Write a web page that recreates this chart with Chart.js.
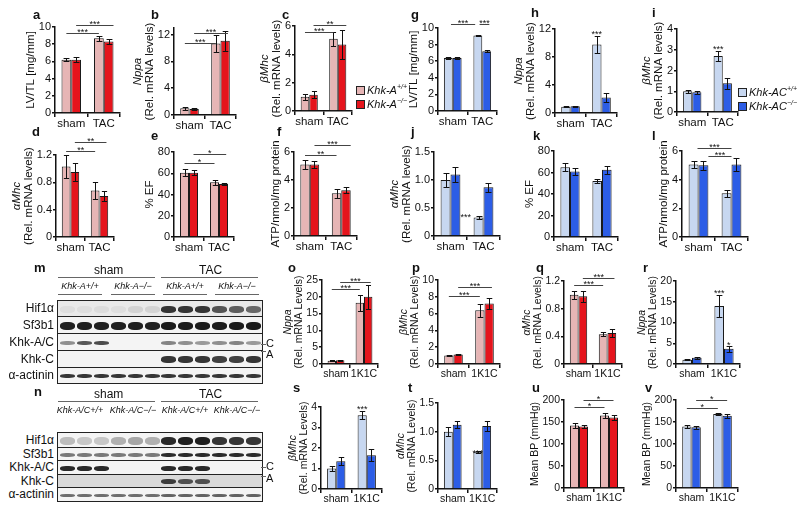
<!DOCTYPE html>
<html>
<head>
<meta charset="utf-8">
<script src="https://cdn.jsdelivr.net/npm/chart.js@4.4.0/dist/chart.umd.min.js"></script>
<style>
    body { margin: 0; width: 800px; height: 515px; overflow: hidden; position: relative; background: #fff;
           font-family: "Liberation Sans", Arial, sans-serif; color: #111; }
    canvas { position: absolute; }
    .lt { position: absolute; font-weight: bold; font-size: 13px; line-height: 16px; }
    .leg { position: absolute; font-size: 11px; line-height: 13px; white-space: nowrap; }
    .leg .sw { display: inline-block; width: 7px; height: 7px; border: 1px solid #222; margin-right: 2px; vertical-align: -1px; }
    .leg sup { font-size: 7px; font-style: italic; }
    .txt { position: absolute; white-space: nowrap; }
    .hline { position: absolute; height: 0; border-top: 1px solid #666; }
    .row { position: absolute; border: 1px solid #222; box-sizing: border-box; overflow: hidden; }
    .band { position: absolute; border-radius: 40%; filter: blur(0.7px); }
    .rl { position: absolute; left: 0; width: 54px; text-align: right; font-size: 12px; line-height: 14px; }
</style>
</head>
<body>
<script>
// categories
const tacGroups = ['sham', 'TAC'];
const bpGroups = ['sham', '1K1C'];

// values: [sham, TAC/1K1C] for wild type and knockout, error bars as [wt, ko]
const a_wt = [6.2, 8.7],   a_ko = [6.2, 8.3],   a_sd = [[0.2, 0.3], [0.3, 0.3]];
const b_wt = [1.0, 10.7],  b_ko = [0.9, 11.1],  b_sd = [[0.25, 1.3], [0.2, 1.5]];
const c_wt = [1.0, 5.1],   c_ko = [1.15, 4.7],  c_sd = [[0.2, 0.5], [0.25, 1.0]];
const g_wt = [6.4, 9.1],   g_ko = [6.4, 7.2],   g_sd = [[0.15, 0.1], [0.15, 0.15]];
const h_wt = [0.9, 9.8],   h_ko = [0.95, 2.2],  h_sd = [[0.1, 1.2], [0.1, 0.6]];
const i_wt = [1.0, 2.7],   i_ko = [0.95, 1.38], i_sd = [[0.08, 0.25], [0.06, 0.25]];
const d_wt = [1.03, 0.68], d_ko = [0.95, 0.6],  d_sd = [[0.17, 0.12], [0.13, 0.07]];
const e_wt = [60.5, 51.5], e_ko = [60.5, 50],   e_sd = [[3.2, 2.5], [2.5, 1.2]];
const f_wt = [5.1, 3.05],  f_ko = [5.1, 3.27],  f_sd = [[0.3, 0.3], [0.25, 0.2]];
const j_wt = [1.0, 0.33],  j_ko = [1.1, 0.87],  j_sd = [[0.12, 0.03], [0.13, 0.08]];
const k_wt = [65, 52],     k_ko = [61, 62.5],   k_sd = [[4, 2], [3.5, 3.5]];
const l_wt = [5.05, 3.05], l_ko = [5.0, 5.05],  l_sd = [[0.25, 0.25], [0.3, 0.45]];
const o_wt = [1.0, 18.2],  o_ko = [1.1, 20.0],  o_sd = [[0.1, 2.3], [0.1, 3.5]];
const p_wt = [1.0, 6.4],   p_ko = [1.12, 7.2],  p_sd = [[0.05, 0.8], [0.08, 0.6]];
const q_wt = [1.0, 0.43],  q_ko = [0.98, 0.45], q_sd = [[0.06, 0.03], [0.08, 0.06]];
const r_wt = [1.0, 14.0],  r_ko = [1.5, 3.7],   r_sd = [[0.15, 2.6], [0.2, 0.7]];
const s_wt = [1.0, 3.6],   s_ko = [1.35, 1.65], s_sd = [[0.1, 0.2], [0.2, 0.3]];
const t_wt = [1.0, 0.65],  t_ko = [1.12, 1.1],  t_sd = [[0.08, 0.02], [0.06, 0.08]];
const u_wt = [142, 165],   u_ko = [140, 160],   u_sd = [[5, 6], [3, 5]];
const v_wt = [140, 168],   v_ko = [138, 164],   v_sd = [[4, 3], [4, 4]];

// y tick labels (axis max is the last tick unless given)
const lvtlTicks = [0, 2, 4, 6, 8, 10];
const nppaTicks = [0, 2, 4, 6, 8, 10, 12];
const b_max = 13;
const bmhcTicks = [0, 1, 2, 3, 4, 5, 6];
const i_ticks = [0, 1, 2, 3, 4];
const amhcTicks = [0, 0.4, 0.8, 1.2];
const efTicks = [0, 20, 40, 60, 80];
const atpTicks = [0, 1, 2, 3, 4, 5, 6];
const j_ticks = [0, 0.5, 1, 1.5];
const o_ticks = [0, 5, 10, 15, 20, 25];
const p_ticks = [0, 2, 4, 6, 8, 10];
const r_ticks = [0, 5, 10, 15, 20];
const s_ticks = [0, 1, 2, 3, 4];
const bpTicks = [0, 50, 100, 150, 200];

const redPair = ['#e6b5b5', '#e5141c'];
const bluePair = ['#c7d7f0', '#2c5de6'];

const YW = 52, PADT = 24, PADR = 6, XH = 18;

const T = (...lines) => lines.map(l => typeof l === 'string' ? { t: l } : l);
const gene = t => ({ t: t, it: true });

// Error bars, significance lines, stars and the y title
const extras = {
    id: 'extras',
    afterDatasetsDraw(chart, args, o) {
        const ctx = chart.ctx, ys = chart.scales.y;
        const bx = (ref) => {
            const bar = chart.getDatasetMeta(ref[0]).data[ref[1]];
            return bar.x + ref[2] * bar.width;
        };
        ctx.save();
        ctx.strokeStyle = '#111';
        ctx.fillStyle = '#111';
        ctx.lineWidth = 1;
        chart.data.datasets.forEach((ds, di) => {
            chart.getDatasetMeta(di).data.forEach((bar, i) => {
                const v = ds.data[i], e = ds.err[i];
                const x = Math.round(bar.x) + 0.5;
                const yt = Math.round(ys.getPixelForValue(v + e)) + 0.5;
                const yb = Math.round(ys.getPixelForValue(v - e)) + 0.5;
                const cw = Math.max(4, bar.width * 0.6);
                ctx.beginPath();
                ctx.moveTo(x, yt); ctx.lineTo(x, yb);
                ctx.moveTo(x - cw / 2, yt); ctx.lineTo(x + cw / 2, yt);
                ctx.moveTo(x - cw / 2, yb); ctx.lineTo(x + cw / 2, yb);
                ctx.stroke();
            });
        });
        ctx.font = '9px "Liberation Sans"';
        ctx.textAlign = 'center';
        ctx.textBaseline = 'alphabetic';
        (o.br || []).forEach(b => {
            const x1 = bx(b.from), x2 = bx(b.to);
            const yy = Math.round(ys.getPixelForValue(b.y)) + 0.5;
            ctx.strokeStyle = '#444';
            ctx.beginPath();
            ctx.moveTo(x1, yy); ctx.lineTo(x2, yy);
            ctx.stroke();
            ctx.fillText(b.text, (x1 + x2) / 2, yy + 1);
        });
        (o.mk || []).forEach(m => {
            const bar = chart.getDatasetMeta(m.ds).data[m.cat];
            ctx.fillText(m.text, bar.x + (m.dx || 0) * bar.width, ys.getPixelForValue(m.y) + 3);
        });
        ctx.restore();
    },
    afterDraw(chart, args, o) {
        const ctx = chart.ctx, area = chart.chartArea, ys = chart.scales.y;
        ctx.save();
        ctx.font = o.tickSize + 'px "Liberation Sans"';
        const widest = Math.max(...ys.ticks.map(t => ctx.measureText(String(t.label)).width));
        const yc = (area.top + area.bottom) / 2;
        const x0 = area.left - 4 - widest - 2 - o.titleSize * 0.5;
        const n = o.title.length;
        o.title.forEach((line, i) => {
            ctx.save();
            ctx.translate(x0 - (n - 1 - i) * (o.titleSize + 0.5), yc);
            ctx.rotate(-Math.PI / 2);
            ctx.font = (line.it ? 'italic ' : '') + o.titleSize + 'px "Liberation Sans"';
            ctx.fillStyle = '#111';
            ctx.textAlign = 'center';
            ctx.textBaseline = 'middle';
            ctx.fillText(line.t, 0, 0);
            ctx.restore();
        });
        ctx.restore();
    }
};

const panels = [
    { id: 'a', at: [33, 15], axis: 55, right: 120, top: 27, zero: 113, ticks: lvtlTicks, labels: tacGroups, wt: a_wt, ko: a_ko, sd: a_sd, col: redPair,
      title: T('LV/TL [mg/mm]'),
      br: [{ from: [0, 0, 0], to: [0, 1, 0], y: 9.3, text: '***' }, { from: [1, 0, 0], to: [1, 1, 0.5], y: 10.2, text: '***' }] },
    { id: 'b', at: [151, 15], axis: 174, right: 236, top: 28, zero: 115, ticks: nppaTicks, max: b_max, labels: tacGroups, wt: b_wt, ko: b_ko, sd: b_sd, col: redPair,
      title: T(gene('Nppa'), '(Rel. mRNA levels)'),
      br: [{ from: [0, 0, 0], to: [0, 1, 0], y: 10.8, text: '***' }, { from: [1, 0, 0], to: [1, 1, 0.3], y: 12.3, text: '***' }] },
    { id: 'c', at: [282, 15], axis: 295, right: 352, top: 26, zero: 111, ticks: bmhcTicks, labels: tacGroups, wt: c_wt, ko: c_ko, sd: c_sd, col: redPair,
      title: T(gene('βMhc'), '(Rel. mRNA levels)'),
      br: [{ from: [0, 0, 0], to: [0, 1, 0], y: 5.6, text: '***' }, { from: [1, 0, 0], to: [1, 1, 0.5], y: 6.1, text: '**' }] },
    { id: 'g', at: [411, 15], axis: 438, right: 497, top: 28, zero: 111, ticks: lvtlTicks, labels: tacGroups, wt: g_wt, ko: g_ko, sd: g_sd, col: bluePair,
      title: T('LV/TL [mg/mm]'),
      br: [{ from: [0, 0, 0.3], to: [0, 1, -0.3], y: 10.5, text: '***' }, { from: [0, 1, 0.2], to: [1, 1, 0.3], y: 10.5, text: '***' }] },
    { id: 'h', at: [531, 13], axis: 555, right: 617, top: 29, zero: 113, ticks: nppaTicks, labels: tacGroups, wt: h_wt, ko: h_ko, sd: h_sd, col: bluePair,
      title: T(gene('Nppa'), '(Rel. mRNA levels)'),
      mk: [{ ds: 0, cat: 1, y: 11.3, text: '***' }] },
    { id: 'i', at: [652, 13], axis: 677, right: 738, top: 29, zero: 112, ticks: i_ticks, labels: tacGroups, wt: i_wt, ko: i_ko, sd: i_sd, col: bluePair,
      title: T(gene('βMhc'), '(Rel. mRNA levels)'),
      mk: [{ ds: 0, cat: 1, y: 3.05, text: '***' }] },

    { id: 'd', at: [32, 132], axis: 56, right: 114, top: 155, zero: 237, ticks: amhcTicks, labels: tacGroups, wt: d_wt, ko: d_ko, sd: d_sd, col: redPair,
      title: T(gene('αMhc'), '(Rel. mRNA levels)'),
      br: [{ from: [0, 0, 0], to: [0, 1, 0], y: 1.26, text: '**' }, { from: [1, 0, 0], to: [1, 1, 0.3], y: 1.39, text: '**' }] },
    { id: 'e', at: [151, 136], axis: 174, right: 234, top: 152, zero: 237, ticks: efTicks, labels: tacGroups, wt: e_wt, ko: e_ko, sd: e_sd, col: redPair,
      title: T('% EF'),
      br: [{ from: [0, 0, 0], to: [0, 1, 0], y: 69.5, text: '*' }, { from: [1, 0, 0], to: [1, 1, 0.3], y: 78, text: '*' }] },
    { id: 'f', at: [277, 132], axis: 294, right: 357, top: 152, zero: 236, ticks: atpTicks, labels: tacGroups, wt: f_wt, ko: f_ko, sd: f_sd, col: redPair,
      title: T('ATP/nmol/mg protein'),
      br: [{ from: [0, 0, 0], to: [0, 1, 0], y: 5.8, text: '**' }, { from: [1, 0, 0], to: [1, 1, 0.5], y: 6.5, text: '***' }] },
    { id: 'j', at: [411, 132], axis: 434, right: 500, top: 152, zero: 236, ticks: j_ticks, labels: tacGroups, wt: j_wt, ko: j_ko, sd: j_sd, col: bluePair,
      title: T(gene('αMhc'), '(Rel. mRNA levels)'),
      mk: [{ ds: 0, cat: 1, dx: -1.3, y: 0.34, text: '***' }] },
    { id: 'k', at: [533, 136], axis: 554, right: 618, top: 151, zero: 237, ticks: efTicks, labels: tacGroups, wt: k_wt, ko: k_ko, sd: k_sd, col: bluePair,
      title: T('% EF') },
    { id: 'l', at: [652, 136], axis: 682, right: 748, top: 151, zero: 237, ticks: atpTicks, labels: tacGroups, wt: l_wt, ko: l_ko, sd: l_sd, col: bluePair,
      title: T('ATP/nmol/mg protein'),
      br: [{ from: [0, 0, 0.4], to: [0, 1, 0.5], y: 6.2, text: '***' }, { from: [1, 0, 0.5], to: [0, 1, 0.5], y: 5.65, text: '***' }] },

    { id: 'o', at: [288, 268], axis: 322, right: 378, top: 280, zero: 364, ticks: o_ticks, small: true, labels: bpGroups, wt: o_wt, ko: o_ko, sd: o_sd, col: redPair,
      title: T(gene('Nppa'), '(Rel. mRNA Levels)'),
      br: [{ from: [0, 0, 0], to: [0, 1, 0], y: 22.3, text: '***' }, { from: [1, 0, 0], to: [1, 1, 0.3], y: 24.4, text: '***' }] },
    { id: 'p', at: [412, 268], axis: 438, right: 500, top: 280, zero: 364, ticks: p_ticks, small: true, labels: bpGroups, wt: p_wt, ko: p_ko, sd: p_sd, col: redPair,
      title: T(gene('βMhc'), '(Rel. mRNA Levels)'),
      br: [{ from: [0, 0, 0], to: [0, 1, 0], y: 8.1, text: '***' }, { from: [1, 0, 0], to: [1, 1, 0.3], y: 9.2, text: '***' }] },
    { id: 'q', at: [536, 268], axis: 564, right: 622, top: 281, zero: 364, ticks: amhcTicks, small: true, labels: bpGroups, wt: q_wt, ko: q_ko, sd: q_sd, col: redPair,
      title: T(gene('αMhc'), '(Rel. mRNA Levels)'),
      br: [{ from: [0, 0, 0], to: [0, 1, 0], y: 1.14, text: '***' }, { from: [1, 0, 0], to: [1, 1, 0.3], y: 1.25, text: '***' }] },
    { id: 'r', at: [643, 268], axis: 676, right: 740, top: 281, zero: 364, ticks: r_ticks, small: true, labels: bpGroups, wt: r_wt, ko: r_ko, sd: r_sd, col: bluePair,
      title: T(gene('Nppa'), '(Rel. mRNA Levels)'),
      mk: [{ ds: 0, cat: 1, y: 17.2, text: '***' }, { ds: 1, cat: 1, y: 4.6, text: '*' }] },

    { id: 's', at: [293, 388], axis: 321, right: 382, top: 407, zero: 489, ticks: s_ticks, small: true, labels: bpGroups, wt: s_wt, ko: s_ko, sd: s_sd, col: bluePair,
      title: T(gene('βMhc'), '(Rel. mRNA Levels)'),
      mk: [{ ds: 0, cat: 1, y: 3.9, text: '***' }] },
    { id: 't', at: [408, 388], axis: 438, right: 497, top: 403, zero: 489, ticks: j_ticks, small: true, labels: bpGroups, wt: t_wt, ko: t_ko, sd: t_sd, col: bluePair,
      title: T(gene('αMhc'), '(Rel. mRNA Levels)'),
      mk: [{ ds: 0, cat: 1, y: 0.63, text: '***' }] },
    { id: 'u', at: [532, 388], axis: 564, right: 624, top: 400, zero: 488, ticks: bpTicks, small: true, labels: bpGroups, wt: u_wt, ko: u_ko, sd: u_sd, col: redPair,
      title: T('Mean BP (mmHg)'),
      br: [{ from: [0, 0, 0], to: [0, 1, 0], y: 183, text: '*' }, { from: [1, 0, 0], to: [1, 1, 0], y: 200, text: '*' }] },
    { id: 'v', at: [645, 388], axis: 676, right: 738, top: 400, zero: 488, ticks: bpTicks, small: true, labels: bpGroups, wt: v_wt, ko: v_ko, sd: v_sd, col: bluePair,
      title: T('Mean BP (mmHg)'),
      br: [{ from: [0, 0, 0], to: [0, 1, 0], y: 182, text: '*' }, { from: [1, 0, 0], to: [1, 1, 0], y: 200, text: '*' }] }
];

function addText(html, left, top, css) {
    const el = document.createElement('div');
    el.className = 'txt';
    el.innerHTML = html;
    el.style.left = left + 'px';
    el.style.top = top + 'px';
    if (css) el.style.cssText += css;
    document.body.appendChild(el);
    return el;
}

function addLine(left, top, width) {
    const el = addText('', left, top);
    el.className = 'hline';
    el.style.width = width + 'px';
    return el;
}

function makePanel(p) {
    const left = p.axis - YW, top = p.top - PADT;
    const cv = document.createElement('canvas');
    cv.width = p.right - left + PADR;
    cv.height = p.zero + XH - top;
    cv.style.left = left + 'px';
    cv.style.top = top + 'px';
    document.body.appendChild(cv);

    const lt = document.createElement('div');
    lt.className = 'lt';
    lt.textContent = p.id;
    lt.style.left = p.at[0] + 'px';
    lt.style.top = (p.at[1] - 8) + 'px';
    document.body.appendChild(lt);

    const tickSize = p.small ? 10.5 : 11;
    const titleSize = p.small ? 10.5 : 11.5;
    const axisLine = { color: '#111', width: 1.5 };

    new Chart(cv, {
        type: 'bar',
        data: {
            labels: p.labels,
            datasets: [
                { data: p.wt, err: p.sd[0], backgroundColor: p.col[0], borderColor: '#1a1a1a', borderWidth: 1 },
                { data: p.ko, err: p.sd[1], backgroundColor: p.col[1], borderColor: '#1a1a1a', borderWidth: 1 }
            ]
        },
        options: {
            responsive: false,
            animation: false,
            events: [],
            layout: { padding: { top: PADT, right: PADR, left: 0, bottom: 0 } },
            datasets: { bar: { categoryPercentage: 0.6, barPercentage: 1 } },
            scales: {
                x: {
                    grid: { offset: true, drawOnChartArea: false, tickLength: 4, color: '#111', lineWidth: 1.5 },
                    border: axisLine,
                    ticks: { color: '#111', font: { family: '"Liberation Sans"', size: p.small ? 10.5 : 11.5 }, padding: 0, maxRotation: 0, autoSkip: false },
                    afterFit: s => { s.height = XH; }
                },
                y: {
                    min: 0, max: p.max || p.ticks[p.ticks.length - 1],
                    grid: { drawOnChartArea: false, tickLength: 3, color: '#111', lineWidth: 1.5 },
                    border: axisLine,
                    ticks: { color: '#111', font: { family: '"Liberation Sans"', size: tickSize }, padding: 1 },
                    afterFit: s => { s.width = YW; },
                    afterBuildTicks: s => { s.ticks = p.ticks.map(v => ({ value: v })); }
                }
            },
            plugins: {
                legend: { display: false },
                tooltip: { enabled: false },
                extras: { br: p.br, mk: p.mk, title: p.title, tickSize: tickSize, titleSize: titleSize }
            }
        },
        plugins: [extras]
    });
}

panels.forEach(makePanel);

// Legends
function legend(x, y, cols, name) {
    addText('<span class="sw" style="background:' + cols[0] + '"></span><i>' + name + '</i><sup>+/+</sup>', x, y).className = 'leg';
    addText('<span class="sw" style="background:' + cols[1] + '"></span><i>' + name + '</i><sup>−/−</sup>', x, y + 14).className = 'leg';
}
legend(356, 80, redPair, 'Khk-A');
legend(738, 82, bluePair, 'Khk-AC');

// Western blots (panels m and n): band darkness per lane
const laneM = {
    'Hif1α':     [0.05, 0.05, 0.06, 0.05, 0.1, 0.1, 0.85, 0.85, 0.85, 0.7, 0.65, 0.6],
    'Sf3b1':     [0.95, 0.95, 0.95, 0.95, 0.95, 0.95, 0.97, 0.97, 0.97, 0.97, 0.97, 0.97],
    'Khk-A/C':   [0.45, 0.7, 0.75, 0, 0, 0, 0.5, 0.45, 0.4, 0.45, 0.5, 0.4],
    'Khk-C':     [0, 0, 0, 0, 0, 0, 0.85, 0.85, 0.85, 0.8, 0.8, 0.85],
    'α-actinin': [0.85, 0.85, 0.85, 0.85, 0.85, 0.85, 0.85, 0.85, 0.85, 0.85, 0.85, 0.85]
};
const laneN = {
    'Hif1α':     [0.25, 0.2, 0.2, 0.3, 0.35, 0.3, 0.9, 0.95, 0.95, 0.85, 0.85, 0.85],
    'Sf3b1':     [0.55, 0.55, 0.55, 0.55, 0.55, 0.55, 0.9, 0.9, 0.9, 0.9, 0.9, 0.9],
    'Khk-A/C':   [0.9, 0.9, 0.9, 0, 0, 0, 0.9, 0.9, 0.9, 0, 0, 0],
    'Khk-C':     [0, 0, 0, 0, 0, 0, 0.8, 0.7, 0.7, 0, 0, 0],
    'α-actinin': [0.6, 0.6, 0.6, 0.6, 0.6, 0.6, 0.65, 0.65, 0.65, 0.65, 0.65, 0.65]
};

function blot(lanes, rows) {
    rows.forEach(r => {
        const row = document.createElement('div');
        row.className = 'row';
        row.style.left = '57px';
        row.style.top = r.y0 + 'px';
        row.style.width = '206px';
        row.style.height = (r.y1 - r.y0 + 1) + 'px';
        row.style.background = r.bg || '#f4f4f4';
        lanes[r.name].forEach((op, i) => {
            if (!op) return;
            const b = document.createElement('div');
            b.className = 'band';
            b.style.left = (2 + i * 16.9) + 'px';
            b.style.width = '15px';
            b.style.height = r.h + 'px';
            b.style.top = ((r.y1 - r.y0 - r.h) / 2) + 'px';
            b.style.background = 'rgba(20,20,20,' + op + ')';
            row.appendChild(b);
        });
        document.body.appendChild(row);
        const lab = document.createElement('div');
        lab.className = 'rl';
        lab.textContent = r.name;
        lab.style.top = ((r.y0 + r.y1) / 2 - 7) + 'px';
        document.body.appendChild(lab);
    });
}

function blotHeader(letter, y, geno, underline) {
    const lt = document.createElement('div');
    lt.className = 'lt';
    lt.textContent = letter;
    lt.style.left = '34px';
    lt.style.top = (y - 12) + 'px';
    document.body.appendChild(lt);
    addText('sham', 94, y - 9, 'font-size:12px');
    addText('TAC', 199, y - 9, 'font-size:12px');
    addLine(58, y + 5, 97);
    addLine(161, y + 5, 97);
    [80, 133, 185, 237].forEach((cx, i) => {
        addText('<i>' + geno[i % 2] + '</i>', cx - 30, y + 9, 'font-size:9px;width:60px;text-align:center');
        if (underline) addLine(cx - 22, y + 22, 44);
    });
}

blotHeader('m', 272, ['Khk-A+/+', 'Khk-A−/−'], true);
blot(laneM, [
    { name: 'Hif1α', y0: 300, y1: 316, h: 7, bg: '#e9e9e9' },
    { name: 'Sf3b1', y0: 316, y1: 333, h: 8 },
    { name: 'Khk-A/C', y0: 333, y1: 350, h: 4 },
    { name: 'Khk-C', y0: 350, y1: 367, h: 7 },
    { name: 'α-actinin', y0: 367, y1: 383, h: 4 }
]);
addText('C', 266, 337, 'font-size:11px');
addText('A', 266, 348, 'font-size:11px');
addLine(261, 344, 5);
addLine(261, 351, 5);

blotHeader('n', 396, ['Khk-A/C+/+', 'Khk-A/C−/−'], false);
blot(laneN, [
    { name: 'Hif1α', y0: 432, y1: 447, h: 8 },
    { name: 'Sf3b1', y0: 447, y1: 460, h: 4 },
    { name: 'Khk-A/C', y0: 460, y1: 474, h: 5 },
    { name: 'Khk-C', y0: 474, y1: 487, h: 5, bg: '#d9d9d9' },
    { name: 'α-actinin', y0: 487, y1: 501, h: 3 }
]);
addText('C', 266, 460, 'font-size:11px');
addText('A', 266, 472, 'font-size:11px');
addLine(261, 467, 5);
addLine(261, 476, 5);
</script>
</body>
</html>
